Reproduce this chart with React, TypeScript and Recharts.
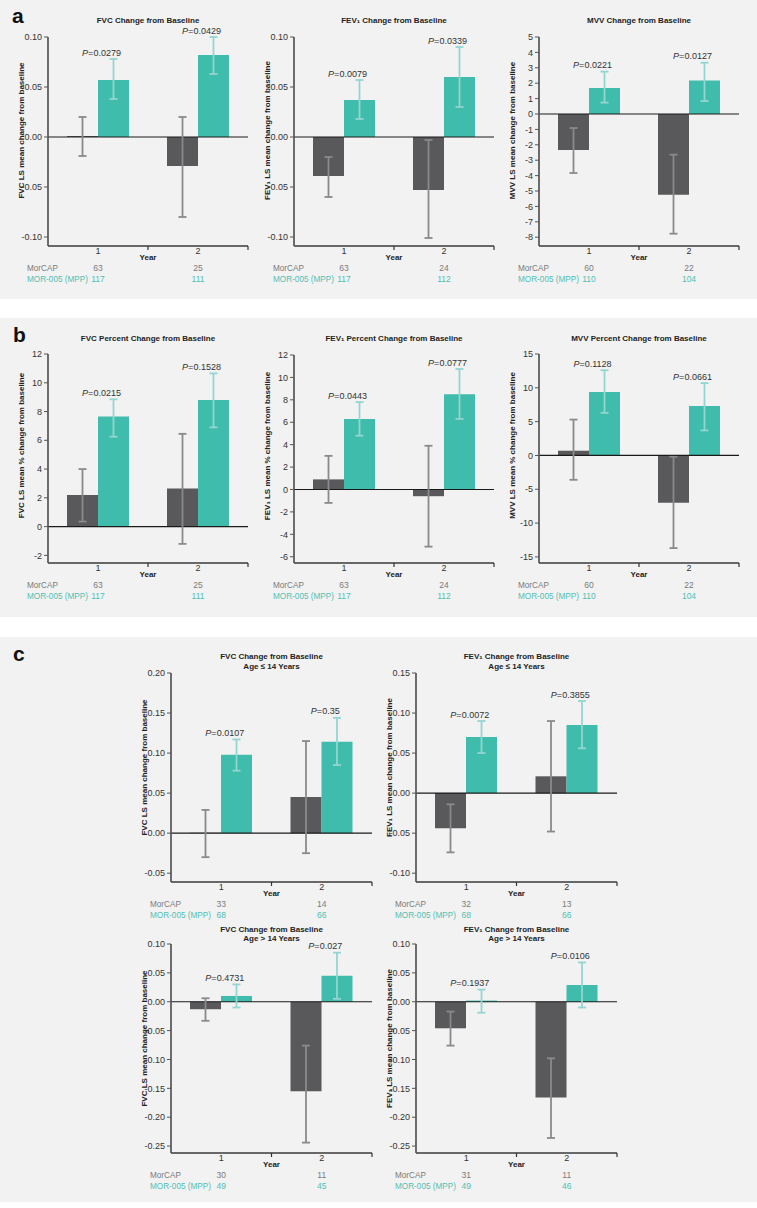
import React from 'react';
import { ComposedChart, Bar, ErrorBar, XAxis, YAxis, ReferenceLine, Line, LabelList } from 'recharts';

const FONT = '"Liberation Sans", Arial, Helvetica, sans-serif';
const GRAY = '#59595b';
const TEAL = '#3fbcab';
const GRAY_ERR = '#8a8a8a';
const TEAL_ERR = '#93d6d1';
const GRAY_TXT = '#7a7a7a';
const TEAL_TXT = '#4fc0b3';
const BG = '#f2f2f2';

const years = ['1', '2'];

// ---- Panel a ----
const a1MorcapMean = [0.001, -0.029];
const a1MorcapCI = [[-0.019, 0.020], [-0.080, 0.020]];
const a1MorMean = [0.057, 0.082];
const a1MorCI = [[0.038, 0.078], [0.063, 0.100]];
const a1P = ['0.0279', '0.0429'];
const a1NMorcap = [63, 25];
const a1NMor = [117, 111];

const a2MorcapMean = [-0.039, -0.053];
const a2MorcapCI = [[-0.060, -0.020], [-0.101, -0.003]];
const a2MorMean = [0.037, 0.060];
const a2MorCI = [[0.018, 0.057], [0.030, 0.090]];
const a2P = ['0.0079', '0.0339'];
const a2NMorcap = [63, 24];
const a2NMor = [117, 112];

const a3MorcapMean = [-2.34, -5.24];
const a3MorcapCI = [[-3.83, -0.91], [-7.77, -2.64]];
const a3MorMean = [1.69, 2.17];
const a3MorCI = [[0.74, 2.75], [0.84, 3.33]];
const a3P = ['0.0221', '0.0127'];
const a3NMorcap = [60, 22];
const a3NMor = [110, 104];

// ---- Panel b ----
const b1MorcapMean = [2.2, 2.65];
const b1MorcapCI = [[0.35, 4.0], [-1.2, 6.45]];
const b1MorMean = [7.65, 8.8];
const b1MorCI = [[6.25, 8.85], [6.9, 10.65]];
const b1P = ['0.0215', '0.1528'];

const b2MorcapMean = [0.9, -0.6];
const b2MorcapCI = [[-1.2, 3.0], [-5.1, 3.9]];
const b2MorMean = [6.3, 8.5];
const b2MorCI = [[4.8, 7.8], [6.3, 10.75]];
const b2P = ['0.0443', '0.0777'];

const b3MorcapMean = [0.7, -7.0];
const b3MorcapCI = [[-3.6, 5.3], [-13.7, -0.2]];
const b3MorMean = [9.4, 7.3];
const b3MorCI = [[6.3, 12.6], [3.7, 10.7]];
const b3P = ['0.1128', '0.0661'];

// ---- Panel c ----
const c1MorcapMean = [0.0005, 0.045];
const c1MorcapCI = [[-0.030, 0.029], [-0.025, 0.115]];
const c1MorMean = [0.098, 0.114];
const c1MorCI = [[0.078, 0.117], [0.085, 0.144]];
const c1P = ['0.0107', '0.35'];
const c1NMorcap = [33, 14];
const c1NMor = [68, 66];

const c2MorcapMean = [-0.044, 0.021];
const c2MorcapCI = [[-0.074, -0.014], [-0.048, 0.090]];
const c2MorMean = [0.070, 0.085];
const c2MorCI = [[0.050, 0.090], [0.056, 0.115]];
const c2P = ['0.0072', '0.3855'];
const c2NMorcap = [32, 13];
const c2NMor = [68, 66];

const c3MorcapMean = [-0.013, -0.155];
const c3MorcapCI = [[-0.033, 0.006], [-0.244, -0.076]];
const c3MorMean = [0.010, 0.045];
const c3MorCI = [[-0.010, 0.030], [0.005, 0.085]];
const c3P = ['0.4731', '0.027'];
const c3NMorcap = [30, 11];
const c3NMor = [49, 45];

const c4MorcapMean = [-0.046, -0.166];
const c4MorcapCI = [[-0.076, -0.017], [-0.236, -0.098]];
const c4MorMean = [0.002, 0.029];
const c4MorCI = [[-0.019, 0.021], [-0.010, 0.068]];
const c4P = ['0.1937', '0.0106'];
const c4NMorcap = [31, 11];
const c4NMor = [49, 46];

// tick label arrays
const ticksA12 = [-0.1, -0.05, 0, 0.05, 0.1];
const ticksA3 = [-8, -7, -6, -5, -4, -3, -2, -1, 0, 1, 2, 3, 4, 5];
const ticksB1 = [-2, 0, 2, 4, 6, 8, 10, 12];
const ticksB2 = [-6, -4, -2, 0, 2, 4, 6, 8, 10, 12];
const ticksB3 = [-15, -10, -5, 0, 5, 10, 15];
const ticksC1 = [-0.05, 0, 0.05, 0.1, 0.15, 0.2];
const ticksC2 = [-0.1, -0.05, 0, 0.05, 0.1, 0.15];
const ticksC34 = [-0.25, -0.2, -0.15, -0.1, -0.05, 0, 0.05, 0.1];

function buildRows(mA: number[], ciA: number[][], mB: number[], ciB: number[][], p: string[], nA: number[], nB: number[]) {
  return years.map((y, i) => ({
    year: y,
    mA: mA[i],
    eA: [mA[i] - ciA[i][0], ciA[i][1] - mA[i]],
    mB: mB[i],
    eB: [mB[i] - ciB[i][0], ciB[i][1] - mB[i]],
    pTop: ciB[i][1],
    p: p[i],
    nA: nA[i],
    nB: nB[i],
  }));
}

const f2 = (v: number) => v.toFixed(2);
const f0 = (v: number) => String(v);

const ML = 48;
const MT = 10;
const MR = 10;
const XH = 45;

const PLabel = (props: any) => {
  const { x, y, value } = props;
  if (x == null || y == null) return null;
  return (
    <text x={Number(x) + 3.5} y={Number(y) - 3.5} textAnchor="middle" fontSize={9} fill="#333">
      <tspan fontStyle="italic">P</tspan>
      <tspan>={value}</tspan>
    </text>
  );
};

const XTick = (props: any) => {
  const { x, y, payload, index, rows, band } = props;
  const half = band / 2;
  const row = rows[index] || {};
  return (
    <g>
      <line x1={x + half} x2={x + half} y1={y} y2={y + 4} stroke="#333" strokeWidth={1.2} />
      <text x={x} y={y + 8} textAnchor="middle" fontSize={9} fill="#333">{payload.value}</text>
      {index === 0 && (
        <text x={x + half} y={y + 14} textAnchor="middle" fontSize={8} fontWeight="bold" fill="#222">Year</text>
      )}
      <text x={x} y={y + 24.5} textAnchor="middle" fontSize={8.5} fill={GRAY_TXT}>{row.nA}</text>
      <text x={x} y={y + 35.5} textAnchor="middle" fontSize={8.5} fill={TEAL_TXT}>{row.nB}</text>
      {index === 0 && (
        <g>
          <text x={ML - 21} y={y + 24.5} fontSize={8.2} fill={GRAY_TXT}>MorCAP</text>
          <text x={ML - 21} y={y + 35.5} fontSize={8.2} fill={TEAL_TXT}>MOR-005 (MPP)</text>
        </g>
      )}
    </g>
  );
};

const YLab = (props: any) => {
  const { cx, cy, text } = props;
  return (
    <text x={cx} y={cy} dy={3} transform={`rotate(-90 ${cx} ${cy})`} textAnchor="middle" fontSize={8} fontWeight="bold" fill="#222">
      {text}
    </text>
  );
};

type Cfg = {
  L: number; T: number; w: number; h: number;
  domain: [number, number]; ticks: number[]; fmt: (v: number) => string;
  rows: any[]; ylabel: string; yShift: number;
  title: string[]; titleY: number[];
};

function Chart({ cfg }: { cfg: Cfg }) {
  const { L, T, w, h, domain, ticks, fmt, rows, ylabel, yShift } = cfg;
  const W = ML + w + MR;
  const H = MT + h + XH;
  return (
    <div style={{ position: 'absolute', left: L - ML, top: T - MT, width: W, height: H }}>
      <ComposedChart width={W} height={H} data={rows} margin={{ top: MT, right: MR, bottom: 0, left: 0 }} barGap={0}>
        <XAxis
          dataKey="year"
          type="category"
          axisLine={{ stroke: '#3a3a3a', strokeWidth: 1.5 }}
          tickLine={false}
          tickSize={0}
          tickMargin={0}
          height={XH}
          interval={0}
          tick={(p: any) => <XTick {...p} rows={rows} band={w / 2} />}
        />
        <YAxis
          type="number"
          domain={domain}
          ticks={ticks}
          allowDataOverflow
          width={ML}
          interval={0}
          tickFormatter={fmt}
          tick={{ fontSize: 9, fill: '#333' }}
          tickSize={4}
          tickMargin={2}
          tickLine={{ stroke: '#555', strokeWidth: 1 }}
          axisLine={{ stroke: '#555', strokeWidth: 1.7 }}
          label={<YLab cx={ML - 27} cy={MT + h / 2 + yShift} text={ylabel} />}
        />
        <ReferenceLine y={0} stroke="#1a1a1a" strokeWidth={1.2} />
        <Bar dataKey="mA" fill={GRAY} barSize={31} isAnimationActive={false}>
          <ErrorBar dataKey="eA" width={4} stroke={GRAY_ERR} strokeWidth={1.8} direction="y" />
        </Bar>
        <Bar dataKey="mB" fill={TEAL} barSize={31} isAnimationActive={false}>
          <ErrorBar dataKey="eB" width={4} stroke={TEAL_ERR} strokeWidth={1.8} direction="y" />
        </Bar>
        <Line dataKey="pTop" stroke="none" dot={false} activeDot={false} isAnimationActive={false} legendType="none">
          <LabelList dataKey="p" content={PLabel} />
        </Line>
      </ComposedChart>
    </div>
  );
}

const charts: Cfg[] = [
  {
    L: 48, T: 37, w: 200, h: 209, domain: [-0.109, 0.1], ticks: ticksA12, fmt: f2,
    rows: buildRows(a1MorcapMean, a1MorcapCI, a1MorMean, a1MorCI, a1P, a1NMorcap, a1NMor),
    ylabel: 'FVC LS mean change from baseline', yShift: -11,
    title: ['FVC Change from Baseline'], titleY: [23],
  },
  {
    L: 294, T: 37, w: 200, h: 209, domain: [-0.109, 0.1], ticks: ticksA12, fmt: f2,
    rows: buildRows(a2MorcapMean, a2MorcapCI, a2MorMean, a2MorCI, a2P, a2NMorcap, a2NMor),
    ylabel: 'FEV\u2081 LS mean change from baseline', yShift: -11,
    title: ['FEV\u2081 Change from Baseline'], titleY: [23],
  },
  {
    L: 539, T: 37, w: 200, h: 209, domain: [-8.57, 5], ticks: ticksA3, fmt: f0,
    rows: buildRows(a3MorcapMean, a3MorcapCI, a3MorMean, a3MorCI, a3P, a3NMorcap, a3NMor),
    ylabel: 'MVV LS mean change from baseline', yShift: -11,
    title: ['MVV Change from Baseline'], titleY: [23],
  },
  {
    L: 48, T: 354, w: 200, h: 209, domain: [-2.53, 12], ticks: ticksB1, fmt: f0,
    rows: buildRows(b1MorcapMean, b1MorcapCI, b1MorMean, b1MorCI, b1P, a1NMorcap, a1NMor),
    ylabel: 'FVC LS mean % change from baseline', yShift: -13,
    title: ['FVC Percent Change from Baseline'], titleY: [341],
  },
  {
    L: 294, T: 355, w: 200, h: 208, domain: [-6.56, 12], ticks: ticksB2, fmt: f0,
    rows: buildRows(b2MorcapMean, b2MorcapCI, b2MorMean, b2MorCI, b2P, a2NMorcap, a2NMor),
    ylabel: 'FEV\u2081 LS mean % change from baseline', yShift: -13,
    title: ['FEV\u2081 Percent Change from Baseline'], titleY: [341],
  },
  {
    L: 539, T: 354, w: 200, h: 209, domain: [-15.9, 15], ticks: ticksB3, fmt: f0,
    rows: buildRows(b3MorcapMean, b3MorcapCI, b3MorMean, b3MorCI, b3P, a3NMorcap, a3NMor),
    ylabel: 'MVV LS mean % change from baseline', yShift: -13,
    title: ['MVV Percent Change from Baseline'], titleY: [341],
  },
  {
    L: 171, T: 673, w: 201, h: 209, domain: [-0.061, 0.2], ticks: ticksC1, fmt: f2,
    rows: buildRows(c1MorcapMean, c1MorcapCI, c1MorMean, c1MorCI, c1P, c1NMorcap, c1NMor),
    ylabel: 'FVC LS mean change from baseline', yShift: -10,
    title: ['FVC Change from Baseline', 'Age \u2264 14 Years'], titleY: [659, 669],
  },
  {
    L: 416, T: 673, w: 201, h: 209, domain: [-0.111, 0.15], ticks: ticksC2, fmt: f2,
    rows: buildRows(c2MorcapMean, c2MorcapCI, c2MorMean, c2MorCI, c2P, c2NMorcap, c2NMor),
    ylabel: 'FEV\u2081 LS mean change from baseline', yShift: -10,
    title: ['FEV\u2081 Change from Baseline', 'Age \u2264 14 Years'], titleY: [659, 669],
  },
  {
    L: 171, T: 944, w: 201, h: 209, domain: [-0.262, 0.1], ticks: ticksC34, fmt: f2,
    rows: buildRows(c3MorcapMean, c3MorcapCI, c3MorMean, c3MorCI, c3P, c3NMorcap, c3NMor),
    ylabel: 'FVC LS mean change from baseline', yShift: -10,
    title: ['FVC Change from Baseline', 'Age > 14 Years'], titleY: [932, 941],
  },
  {
    L: 416, T: 944, w: 201, h: 209, domain: [-0.262, 0.1], ticks: ticksC34, fmt: f2,
    rows: buildRows(c4MorcapMean, c4MorcapCI, c4MorMean, c4MorCI, c4P, c4NMorcap, c4NMor),
    ylabel: 'FEV\u2081 LS mean change from baseline', yShift: -10,
    title: ['FEV\u2081 Change from Baseline', 'Age > 14 Years'], titleY: [932, 941],
  },
];

export default function App() {
  return (
    <div style={{ position: 'absolute', left: 0, top: 0, width: 757, height: 1208, background: '#fff', overflow: 'hidden', fontFamily: FONT }}>
      <div style={{ position: 'absolute', left: 0, top: 0, width: 757, height: 299, background: BG }} />
      <div style={{ position: 'absolute', left: 0, top: 318, width: 757, height: 299, background: BG }} />
      <div style={{ position: 'absolute', left: 0, top: 637, width: 757, height: 565, background: BG }} />
      {charts.map((c, i) => (
        <Chart key={i} cfg={c} />
      ))}
      <svg width={757} height={1208} style={{ position: 'absolute', left: 0, top: 0, pointerEvents: 'none' }}>
        <text x={12} y={23} fontSize={21} fontWeight="bold" fill="#111">a</text>
        <text x={13} y={342} fontSize={21} fontWeight="bold" fill="#111">b</text>
        <text x={13} y={661} fontSize={21} fontWeight="bold" fill="#111">c</text>
        {charts.map((c, i) =>
          c.title.map((t, j) => (
            <text key={`${i}-${j}`} x={c.L + c.w / 2} y={c.titleY[j]} textAnchor="middle" fontSize={8} fontWeight="bold" fill="#222">
              {t}
            </text>
          ))
        )}
      </svg>
    </div>
  );
}
